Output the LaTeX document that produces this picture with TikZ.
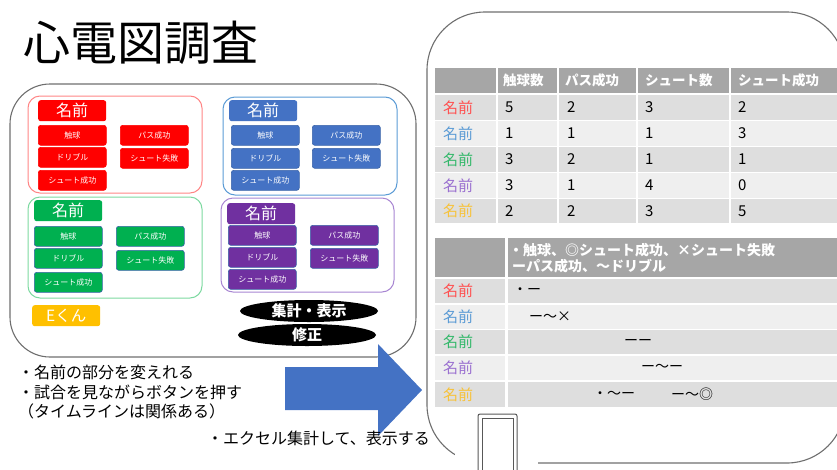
\documentclass[tikz,border=0pt]{standalone}
\usepackage{fontspec}
\setmainfont{Noto Sans CJK JP}
\setsansfont{Noto Sans CJK JP}
\usetikzlibrary{shapes.geometric}
\newcommand\myfs[1]{\fontsize{#1}{#1}\selectfont}
\definecolor{cRed}{HTML}{FF0000}
\definecolor{cBlue}{HTML}{4472C4}
\definecolor{cGreen}{HTML}{00B050}
\definecolor{cPurple}{HTML}{7030A0}
\definecolor{cOrange}{HTML}{FFC000}
\definecolor{oRed}{HTML}{FF8585}
\definecolor{oBlue}{HTML}{5B9BD5}
\definecolor{oGreen}{HTML}{7CD9A0}
\definecolor{oPurple}{HTML}{A886D2}
\definecolor{bEdge}{HTML}{3A64A8}
\definecolor{tRed}{HTML}{FF5050}
\definecolor{tBlue}{HTML}{5B9BD5}
\definecolor{tGreen}{HTML}{33B86A}
\definecolor{tPurple}{HTML}{9A70D0}
\definecolor{tYellow}{HTML}{F7C23A}
\definecolor{hdr}{HTML}{A6A6A6}
\definecolor{rowA}{HTML}{DEDEDE}
\definecolor{rowB}{HTML}{EFEFEF}
\definecolor{panel}{HTML}{6E6E6E}
\begin{document}
\begin{tikzpicture}[x=1pt,y=-1pt,
  frame/.style={draw=panel,line width=1.1pt,rounded corners=40pt},
  grpframe/.style={line width=1pt,rounded corners=12pt},
  btn/.style={rounded corners=2.5pt,minimum width=68pt,minimum height=20pt,inner sep=0pt,
    anchor=north west,text=white,font=\myfs{8}},
  namebox/.style={btn,minimum height=21pt,font=\myfs{16}},
  oval/.style={ellipse,fill=black,minimum width=138pt,minimum height=22pt,inner sep=0pt,
    text=white,font=\myfs{15}\bfseries},
  txt/.style={anchor=west,inner sep=0pt,font=\myfs{16}},
  thead/.style={anchor=west,inner sep=0pt,text=white,font=\myfs{13.5}\bfseries},
  tname/.style={anchor=west,inner sep=0pt,font=\myfs{15}},
  tval/.style={anchor=west,inner sep=0pt,font=\myfs{15}},
  tmark/.style={anchor=west,inner sep=0pt,font=\myfs{14}},
]
\useasboundingbox (0,0) rectangle (837,469);
\clip (0,0) rectangle (837,469);

% title
\node[anchor=west,inner sep=0pt,font=\myfs{47}] (title) at (23,43) {心電図調査};

% left panel
\draw[frame] (10,84) rectangle (416,357);

% groups
\foreach \p/\fc/\ec/\oc/\ax/\ay/\bx/\by/\nx/\ny/\cx/\ra/\rb/\rc/\dx/\sa/\sb in {
  r/cRed/cRed/oRed/28/96/202/193/38/100/38/125/147/170/120/125/148,
  b/cBlue/bEdge/oBlue/223/97/397/195/229/100/231/125/148/170/312/125/148,
  g/cGreen/bEdge/oGreen/28/197/202/298/34/200/34/226/248/272/116/226/250,
  p/cPurple/bEdge/oPurple/221/198/394/292/227/203/228/225/247/269/310/225/248}{
  \draw[grpframe,draw=\oc] (\ax,\ay) rectangle (\bx,\by);
  \node[namebox,fill=\fc] (\p-name) at (\nx,\ny) {名前};
  \node[btn,fill=\fc,draw=\ec,line width=0.6pt] (\p-a) at (\cx,\ra) {触球};
  \node[btn,fill=\fc,draw=\ec,line width=0.6pt] (\p-b) at (\cx,\rb) {ドリブル};
  \node[btn,fill=\fc,draw=\ec,line width=0.6pt] (\p-c) at (\cx,\rc) {シュート成功};
  \node[btn,fill=\fc,draw=\ec,line width=0.6pt] (\p-d) at (\dx,\sa) {パス成功};
  \node[btn,fill=\fc,draw=\ec,line width=0.6pt] (\p-e) at (\dx,\sb) {シュート失敗};
}
\node[namebox,fill=cOrange,font=\myfs{15.5}] (ekun) at (32,305) {Eくん};

\node[oval] (sum) at (309,311) {集計・表示};
\node[oval] (fix) at (307,335) {修正};

% phone panel
\draw[draw=panel,line width=1.1pt,rounded corners=58pt] (427,12) rectangle (845,463);
\fill[white] (455,438) rectangle (538,470);
\draw[draw=panel!80!black,line width=1pt,fill=white,rounded corners=2pt] (478,414) rectangle (517,475);
\draw[draw=panel!80!black,line width=1pt] (482,418) rectangle (513,475);

% table 1
\foreach \t/\b/\c in {68/93/hdr,95/120/rowA,121/146/rowB,147/172/rowA,173/198/rowB,199/223/rowA}
  \foreach \l/\r in {435/496,498/557,559/636,638/729,731/850}
    \fill[\c] (\l,\t) rectangle (\r,\b);
\node[thead] (h1) at (503,80.5) {触球数};
\node[thead] (h2) at (565,80.5) {パス成功};
\node[thead] (h3) at (645,80.5) {シュート数};
\node[thead] (h4) at (738,80.5) {シュート成功};
\foreach \y/\c/\v/\w/\s/\z [count=\i] in {107.5/tRed/5/2/3/2, 133.5/tBlue/1/1/1/3,
  159.5/tGreen/3/2/1/1, 185.5/tPurple/3/1/4/0, 211/tYellow/2/2/3/5}{
  \node[tname,text=\c] (n\i) at (443,\y) {名前};
  \node[tval] (v\i a) at (505,\y) {\v};
  \node[tval] (v\i b) at (567,\y) {\w};
  \node[tval] (v\i c) at (645,\y) {\s};
  \node[tval] (v\i d) at (738,\y) {\z};
}

% table 2
\foreach \t/\b/\c in {238/277/hdr,279/303/rowA,305/329/rowB,330/354/rowA,356/380/rowB,382/407/rowA}
  \foreach \l/\r in {435/505,508/850}
    \fill[\c] (\l,\t) rectangle (\r,\b);
\node[thead,font=\myfs{14}\bfseries] (k1) at (509,250) {・触球、◎シュート成功、×シュート失敗};
\node[thead,font=\myfs{14}\bfseries] (k2) at (512,266) {ーパス成功、～ドリブル};
\foreach \y/\c [count=\i] in {291/tRed,317/tBlue,342/tGreen,368/tPurple,394.5/tYellow}
  \node[tname,text=\c] (m\i) at (443,\y) {名前};
\node[tmark] (q1) at (513,291) {・ー};
\node[tmark] (q2) at (529,317) {ー～×};
\node[tmark] (q3) at (624,342) {ーー};
\node[tmark] (q4) at (641,368) {ー～ー};
\node[tmark] (q5) at (593,394.5) {・～ー};
\node[tmark] (q6) at (671,394.5) {ー～◎};

% arrow
\fill[cBlue] (285,367) -- (378,367) -- (378,344) -- (422,390) -- (378,436) -- (378,410) -- (285,410) -- cycle;

% notes
\node[txt] (note1) at (18,372) {・名前の部分を変えれる};
\node[txt] (note2) at (18,392) {・試合を見ながらボタンを押す};
\node[txt] (note3) at (18,411) {（タイムラインは関係ある）};
\node[txt,anchor=east] (note4) at (430,438) {・エクセル集計して、表示する};
\end{tikzpicture}
\end{document}
